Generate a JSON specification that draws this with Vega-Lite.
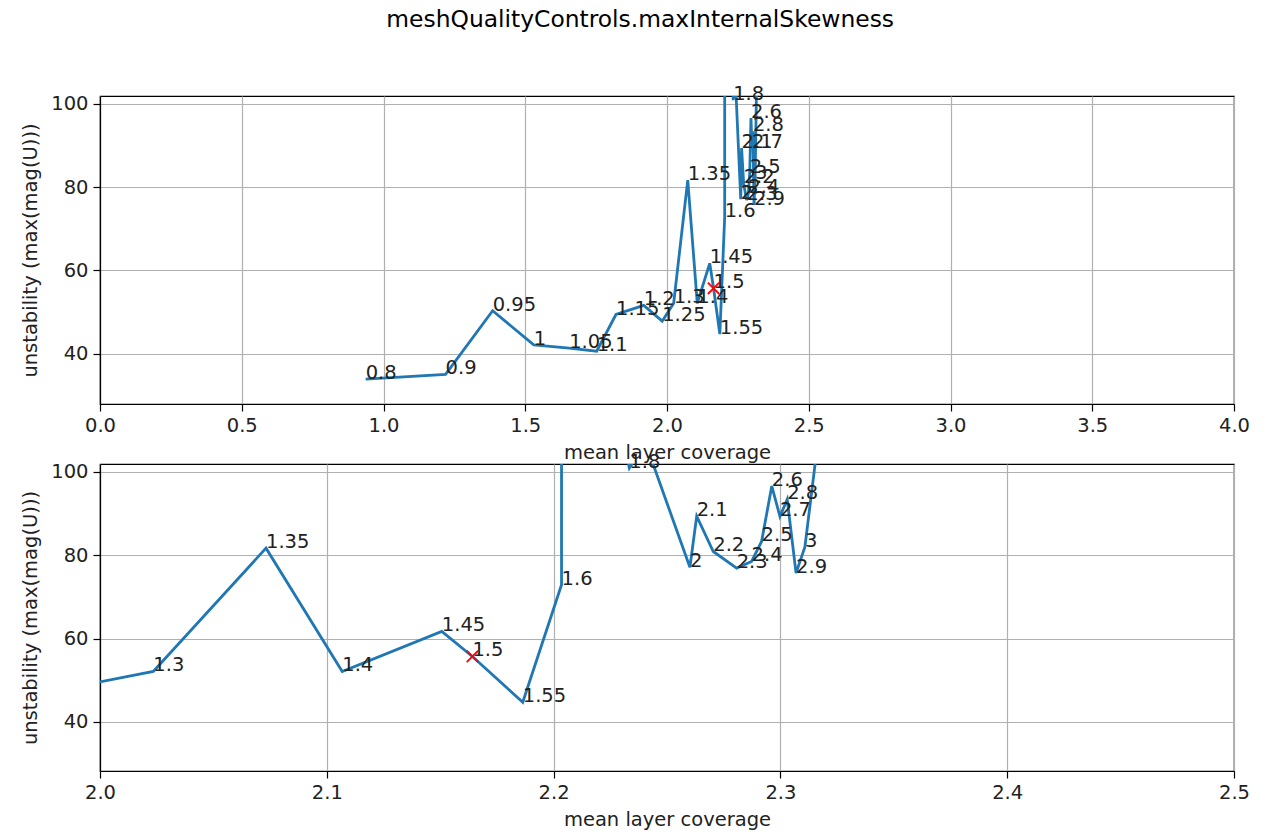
{
  "$schema": "https://vega.github.io/schema/vega-lite/v6.json",
  "title": {"text": "meshQualityControls.maxInternalSkewness", "fontSize": 23.4, "font": "DejaVu Sans", "fontWeight": "normal", "color": "#000", "anchor": "middle", "offset": 51, "dx": 5},
  "padding": {"left": 20, "top": 8, "right": 5, "bottom": 5},
  "background": "#ffffff",
  "config": {
    "font": "DejaVu Sans",
    "view": {"stroke": "#000", "strokeWidth": 1.2},
    "axis": {
      "domainColor": "#000", "domainWidth": 1.2,
      "tickColor": "#000", "tickSize": 7, "tickWidth": 1.2,
      "labelFont": "DejaVu Sans", "labelFontSize": 19.5, "labelColor": "#222", "labelPadding": 5, "labelFlush": false,
      "titleFont": "DejaVu Sans", "titleFontSize": 19.5, "titleFontWeight": "normal", "titleColor": "#222",
      "gridColor": "#b0b0b0", "gridWidth": 1.2, "gridOpacity": 1
    }
  },
  "datasets": {
    "pts": [
      {"skew": 0.8, "x": 0.937, "y": 33.9},
      {"skew": 0.9, "x": 1.219, "y": 35.0},
      {"skew": 0.95, "x": 1.385, "y": 50.3},
      {"skew": 1, "x": 1.530, "y": 42.1},
      {"skew": 1.05, "x": 1.655, "y": 41.3},
      {"skew": 1.1, "x": 1.752, "y": 40.6},
      {"skew": 1.15, "x": 1.820, "y": 49.4},
      {"skew": 1.2, "x": 1.918, "y": 51.6},
      {"skew": 1.25, "x": 1.983, "y": 47.8},
      {"skew": 1.3, "x": 2.0235, "y": 52.1},
      {"skew": 1.35, "x": 2.0732, "y": 81.7},
      {"skew": 1.4, "x": 2.1068, "y": 52.1},
      {"skew": 1.45, "x": 2.1507, "y": 61.7},
      {"skew": 1.5, "x": 2.1642, "y": 55.7},
      {"skew": 1.55, "x": 2.1864, "y": 44.7},
      {"skew": 1.6, "x": 2.2035, "y": 72.9},
      {"skew": 1.7, "x": 2.2035, "y": 180},
      {"skew": 1.8, "x": 2.2334, "y": 100.9},
      {"skew": 1.9, "x": 2.2405, "y": 107},
      {"skew": 2, "x": 2.2601, "y": 77.1},
      {"skew": 2.1, "x": 2.2631, "y": 89.4},
      {"skew": 2.2, "x": 2.2704, "y": 80.9},
      {"skew": 2.3, "x": 2.2807, "y": 76.9},
      {"skew": 2.4, "x": 2.2873, "y": 78.5},
      {"skew": 2.5, "x": 2.2917, "y": 83.3},
      {"skew": 2.6, "x": 2.2962, "y": 96.6},
      {"skew": 2.7, "x": 2.2998, "y": 89.3},
      {"skew": 2.8, "x": 2.3030, "y": 93.4},
      {"skew": 2.9, "x": 2.3069, "y": 75.7},
      {"skew": 3, "x": 2.3108, "y": 82.0},
      {"skew": 3.1, "x": 2.3194, "y": 120}
    ]
  },
  "bounds": "flush",
  "spacing": 60,
  "vconcat": [
    {
      "width": 1134, "height": 308,
      "data": {"name": "pts"},
      "encoding": {
        "x": {"field": "x", "type": "quantitative", "scale": {"domain": [0, 4], "nice": false, "zero": false},
              "axis": {"values": [0, 0.5, 1, 1.5, 2, 2.5, 3, 3.5, 4], "format": ".1f", "title": "mean layer coverage", "titlePadding": 9}},
        "y": {"field": "y", "type": "quantitative", "scale": {"domain": [27.9, 101.9], "nice": false, "zero": false},
              "axis": {"values": [40, 60, 80, 100], "title": "unstability (max(mag(U)))", "titlePadding": 10}}
      },
      "layer": [
        {"mark": {"type": "line", "clip": true, "color": "#1f77b4", "strokeWidth": 2.8},
         "encoding": {"order": {"field": "skew", "type": "quantitative"}}},
        {"transform": [{"filter": "datum.y <= 101.9 && datum.x >= 0 && datum.x <= 4"}],
         "mark": {"type": "text", "align": "left", "baseline": "alphabetic", "fontSize": 19.5, "color": "#222", "font": "DejaVu Sans"},
         "encoding": {"text": {"field": "skew", "type": "nominal"}}},
        {"transform": [{"filter": "datum.skew == 1.5"}],
         "mark": {"type": "point", "shape": "M-1,-1L1,1M-1,1L1,-1", "stroke": "#ff0000", "strokeWidth": 1.8, "size": 130, "filled": false, "opacity": 1}}
      ]
    },
    {
      "width": 1134, "height": 307,
      "data": {"name": "pts"},
      "encoding": {
        "x": {"field": "x", "type": "quantitative", "scale": {"domain": [2.0, 2.5], "nice": false, "zero": false},
              "axis": {"values": [2.0, 2.1, 2.2, 2.3, 2.4, 2.5], "format": ".1f", "title": "mean layer coverage", "titlePadding": 9}},
        "y": {"field": "y", "type": "quantitative", "scale": {"domain": [28.2, 101.9], "nice": false, "zero": false},
              "axis": {"values": [40, 60, 80, 100], "title": "unstability (max(mag(U)))", "titlePadding": 10}}
      },
      "layer": [
        {"mark": {"type": "line", "clip": true, "color": "#1f77b4", "strokeWidth": 2.8},
         "encoding": {"order": {"field": "skew", "type": "quantitative"}}},
        {"transform": [{"filter": "datum.y <= 101.9 && datum.x >= 2 && datum.x <= 2.5"}],
         "mark": {"type": "text", "align": "left", "baseline": "alphabetic", "fontSize": 19.5, "color": "#222", "font": "DejaVu Sans"},
         "encoding": {"text": {"field": "skew", "type": "nominal"}}},
        {"transform": [{"filter": "datum.skew == 1.5"}],
         "mark": {"type": "point", "shape": "M-1,-1L1,1M-1,1L1,-1", "stroke": "#ff0000", "strokeWidth": 1.8, "size": 130, "filled": false, "opacity": 1}}
      ]
    }
  ]
}
